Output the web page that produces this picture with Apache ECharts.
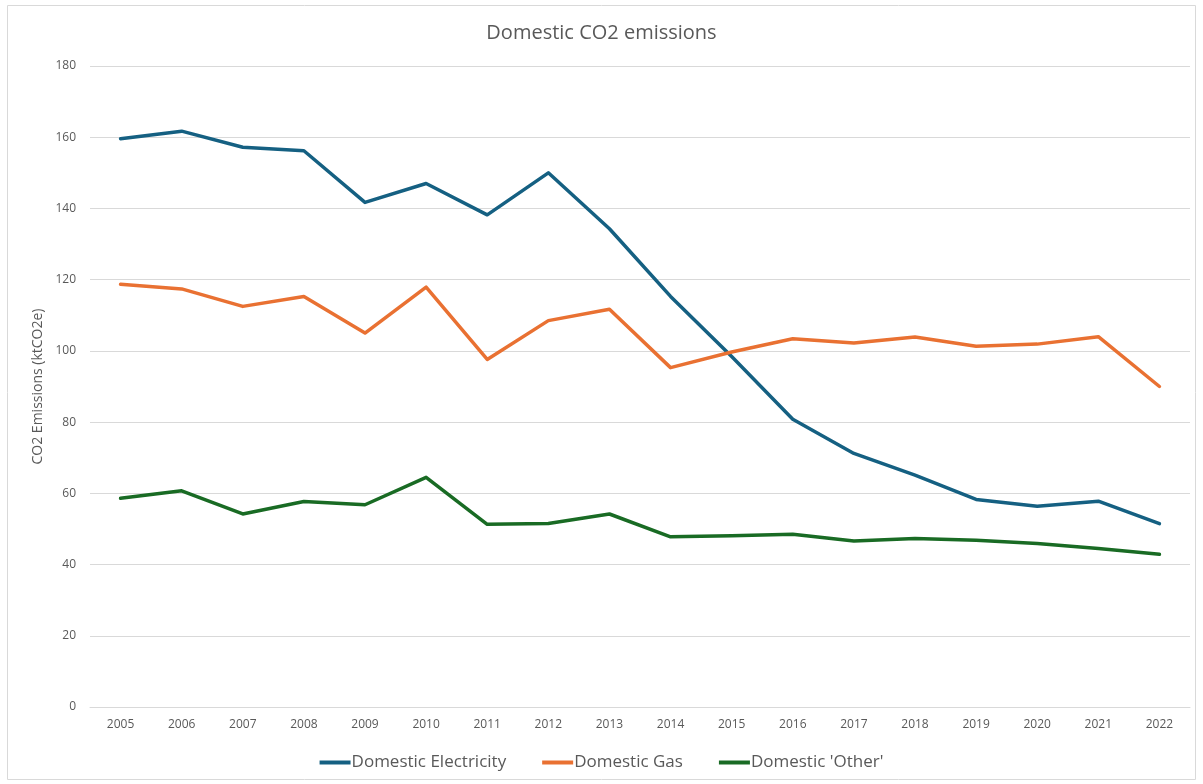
<!DOCTYPE html>
<html>
<head>
<meta charset="utf-8">
<script src="https://cdn.jsdelivr.net/npm/echarts@6/dist/echarts.min.js"></script>
<style>
html,body{margin:0;padding:0;background:#fff;}
#chart{width:1203px;height:784px;}
</style>
</head>
<body>
<div id="chart"></div>
<script>
const years = ['2005','2006','2007','2008','2009','2010','2011','2012','2013','2014','2015','2016','2017','2018','2019','2020','2021','2022'];
const electricity = [159.6,161.7,157.2,156.2,141.7,147.0,138.2,150.0,134.3,115.3,98.4,80.8,71.2,65.1,58.3,56.4,57.8,51.5];
const gas = [118.7,117.4,112.5,115.3,105.0,117.9,97.6,108.5,111.7,95.3,99.7,103.4,102.2,103.9,101.3,101.9,104.0,90.0];
const other = [58.6,60.7,54.2,57.7,56.8,64.5,51.3,51.5,54.2,47.8,48.1,48.5,46.6,47.3,46.8,45.9,44.5,42.9];
const seriesNames = ['Domestic Electricity','Domestic Gas',"Domestic 'Other'"];
const colors = ['#156082','#E97132','#196B24'];

const FONT = 'Open Sans';
const chart = echarts.init(document.getElementById('chart'));
const mk = (name, data, color) => ({
  name, type:'line', data, symbol:'none', smooth:false,
  lineStyle:{width:3.5, color, cap:'round', join:'round'},
  itemStyle:{color}
});
chart.setOption({
  animation:false,
  textStyle:{fontFamily:FONT},
  graphic:[{type:'rect', shape:{x:7.5,y:5.5,width:1188,height:774}, style:{fill:null, stroke:'#d9d9d9', lineWidth:1}, silent:true}],
  title:{text:'Domestic CO2 emissions', left:'center', top:18, textStyle:{fontFamily:FONT, fontSize:20, fontWeight:'normal', color:'#595959'}},
  legend:{bottom:8, left:'center', itemWidth:31, itemHeight:4, itemGap:36, icon:'rect',
    textStyle:{fontFamily:FONT, fontSize:17, color:'#595959', padding:[0,0,0,-4]},
    data:seriesNames},
  grid:{left:90, right:13, top:66, bottom:77, containLabel:false},
  xAxis:{type:'category', data:years, boundaryGap:true,
    axisLine:{show:true, lineStyle:{color:'#d9d9d9', width:1}}, axisTick:{show:false},
    axisLabel:{fontFamily:FONT, fontSize:12, color:'#595959', margin:12}},
  yAxis:{type:'value', min:0, max:180, interval:20,
    name:'CO2 Emissions (ktCO2e)', nameLocation:'middle', nameGap:44, nameRotate:90,
    nameTextStyle:{fontFamily:FONT, fontSize:14, color:'#595959'},
    axisLine:{show:false}, axisTick:{show:false},
    axisLabel:{fontFamily:FONT, fontSize:12, color:'#595959', margin:14},
    splitLine:{lineStyle:{color:'#d9d9d9', width:1}}},
  series:[mk(seriesNames[0], electricity, colors[0]), mk(seriesNames[1], gas, colors[1]), mk(seriesNames[2], other, colors[2])]
});
</script>
</body>
</html>
